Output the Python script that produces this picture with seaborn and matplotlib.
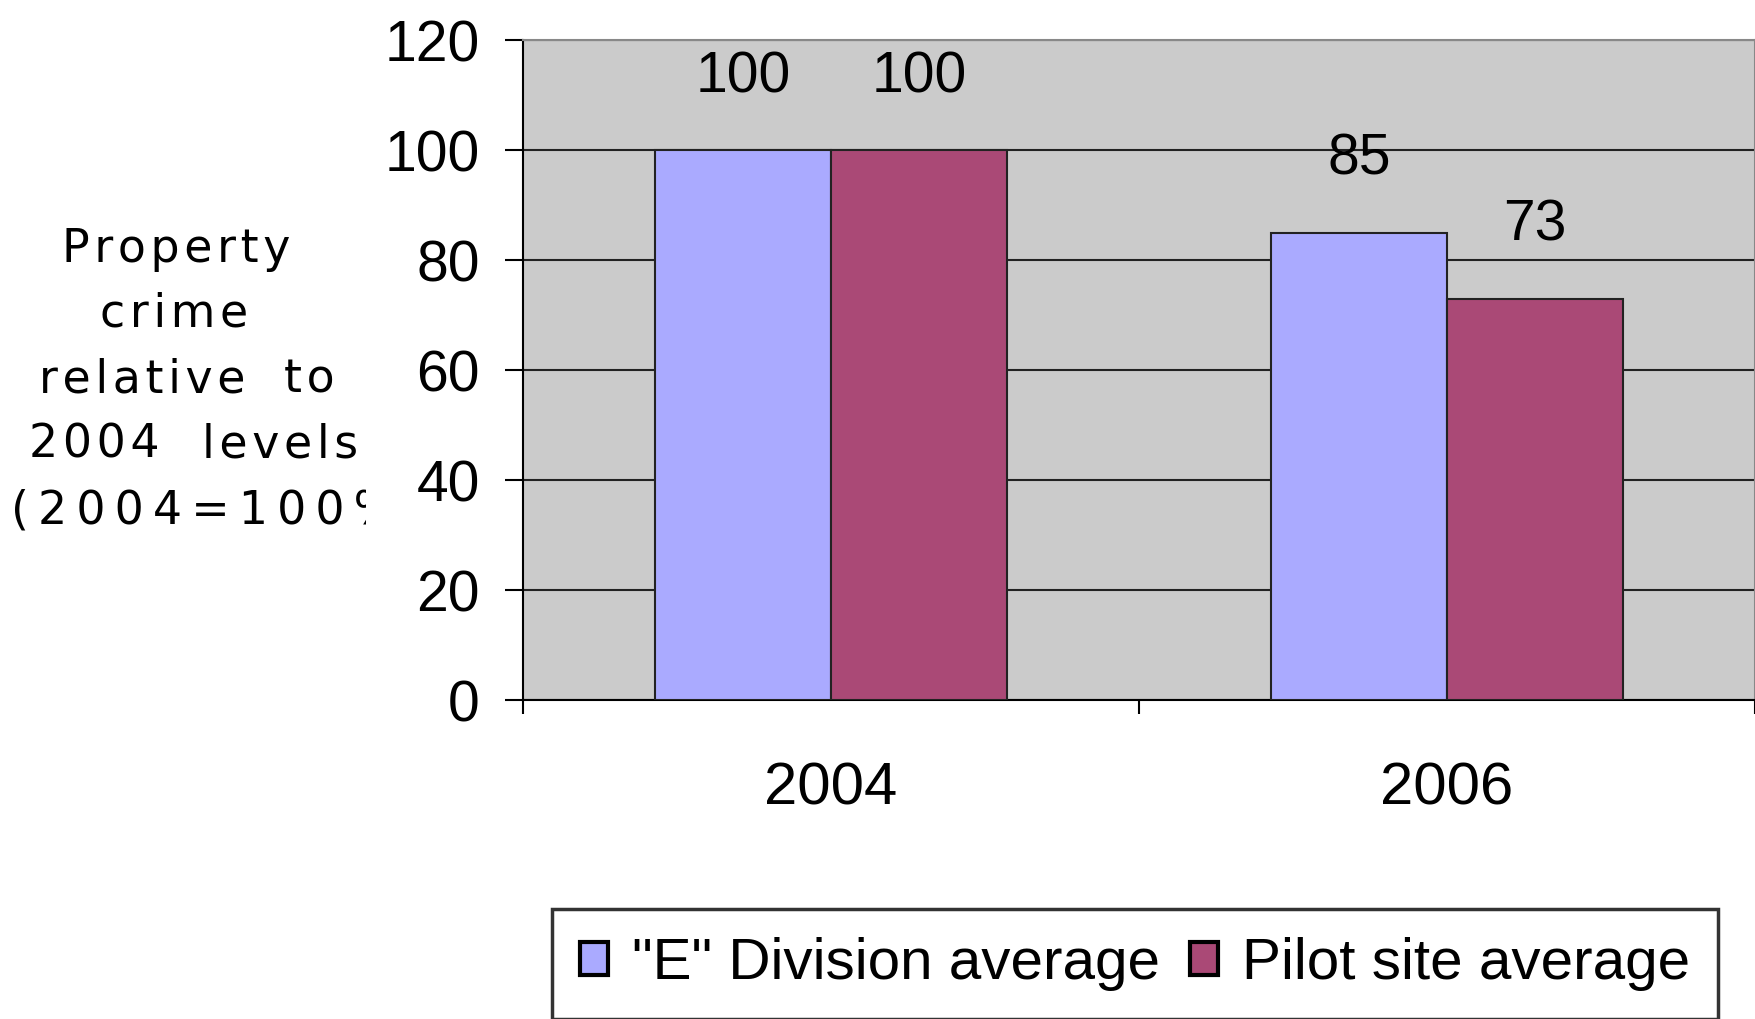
import pandas as pd
import matplotlib.pyplot as plt
import seaborn as sns
from matplotlib.patches import Patch
from matplotlib.transforms import Bbox

# Chart data
years = ['2004', '2006']
series = ['"E" Division average', 'Pilot site average']
e_division = [100, 85]
pilot_site = [100, 73]
colors = ['#AAAAFF', '#AA4976']
yticks = [0, 20, 40, 60, 80, 100, 120]

df = pd.DataFrame({
    'Year': years * 2,
    'Series': [series[0]] * len(years) + [series[1]] * len(years),
    'Value': e_division + pilot_site,
})

plt.rcParams['font.family'] = ['Liberation Sans', 'DejaVu Sans']

W, H = 1755, 1019
fig = plt.figure(figsize=(W / 100, H / 100), dpi=100)
ax = fig.add_axes([523 / W, 1 - 700 / H, (W - 523) / W, (700 - 40) / H])
ax.set_facecolor('#CBCBCB')

sns.barplot(data=df, x='Year', y='Value', hue='Series', palette=colors,
            width=0.57, saturation=1, edgecolor='#222222', linewidth=1.5,
            legend=False, ax=ax, zorder=3)

ax.set_xlim(-0.5, 1.5)
ax.set_ylim(0, 120)
ax.set_yticks(yticks)
ax.yaxis.grid(True, color='#222222', linewidth=1.5)
ax.set_axisbelow(True)
ax.set_xlabel('')
ax.set_ylabel('')

for s in ['left', 'bottom']:
    ax.spines[s].set_color('black')
    ax.spines[s].set_linewidth(1.5)
for s in ['top', 'right']:
    ax.spines[s].set_color('#888888')
    ax.spines[s].set_linewidth(1.5)

ax.tick_params(axis='y', length=13, width=1.5, pad=18, labelsize=41)
ax.tick_params(axis='x', which='major', length=0, pad=44, labelsize=43)
ax.set_xticks([-0.5, 0.5, 1.5], minor=True)
ax.tick_params(axis='x', which='minor', length=10, width=1.5)

# value labels above bars
for cont in ax.containers:
    ax.bar_label(cont, fmt='%g', padding=33, fontsize=41)

# wrapped, justified y-axis title
yl = dict(fontsize=33, family='DejaVu Sans', va='baseline')
hs = '\u200a'
fig.text(176 / W, 1 - 262 / H, hs.join('Property'), ha='center', **yl)
fig.text(174 / W, 1 - 327 / H, hs.join('crime'), ha='center', **yl)
fig.text(39 / W, 1 - 392 / H, hs.join('relative'), ha='left', **yl)
fig.text(335 / W, 1 - 392 / H, hs.join('to'), ha='right', **yl)
fig.text(29 / W, 1 - 458 / H, hs.join('2004'), ha='left', **yl)
fig.text(358 / W, 1 - 458 / H, hs.join('levels'), ha='right', **yl)
last = fig.text(11 / W, 1 - 523 / H, '\u2009'.join('(2004=100%)'), ha='left', **yl)
last.set_clip_on(True)
last.set_clip_box(Bbox.from_extents(0, 0, 366, H))

handles = [Patch(facecolor=c, edgecolor='black', linewidth=3) for c in colors]
leg = fig.legend(handles, series, loc='upper left',
                 bbox_to_anchor=(552 / W, 1 - 909 / H), ncol=2, fontsize=42,
                 frameon=True, fancybox=False, edgecolor='black',
                 handlelength=0.48, handleheight=0.48, handletextpad=0.42,
                 columnspacing=0.5, borderpad=0.48, borderaxespad=0)
leg.get_frame().set_linewidth(2.5)

fig.savefig('out.png', dpi=100)
